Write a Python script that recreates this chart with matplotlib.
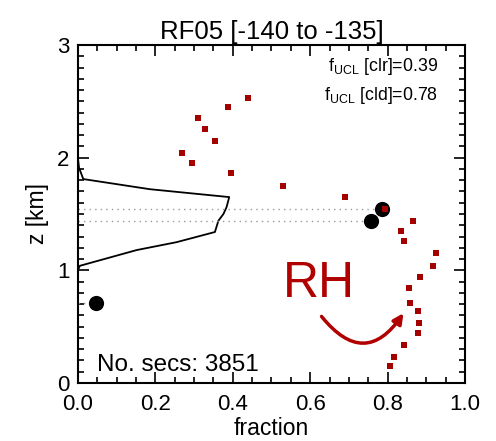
import matplotlib
matplotlib.use('Agg')
import matplotlib.pyplot as plt
from matplotlib.ticker import MultipleLocator

plt.rcParams['font.family'] = ['Liberation Sans', 'DejaVu Sans']

# RH profile (red squares)
rh_frac = [0.440, 0.387, 0.310, 0.329, 0.353, 0.268, 0.296, 0.395, 0.530, 0.690,
           0.793, 0.865, 0.835, 0.842, 0.926, 0.918, 0.884, 0.855, 0.857, 0.879,
           0.880, 0.879, 0.843, 0.817, 0.806]
rh_z = [2.53, 2.45, 2.35, 2.25, 2.15, 2.04, 1.95, 1.86, 1.75, 1.65,
        1.54, 1.44, 1.35, 1.26, 1.15, 1.04, 0.94, 0.84, 0.71, 0.64,
        0.53, 0.44, 0.34, 0.23, 0.15]

# cloud fraction profile (black line)
cf_frac = [0.0, 0.0, 0.003, 0.014, 0.186, 0.391, 0.384, 0.376, 0.363, 0.354,
           0.255, 0.152, 0.005, 0.0, 0.0]
cf_z = [3.0, 2.0, 1.91, 1.81, 1.72, 1.65, 1.56, 1.50, 1.44, 1.34,
        1.25, 1.18, 1.04, 1.0, 0.0]

# UCL points (black dots)
ucl_frac = [0.786, 0.756, 0.047]
ucl_z = [1.54, 1.44, 0.71]

fig = plt.figure(figsize=(4.96, 4.41), dpi=100)
ax = fig.add_axes([0.157, 0.1315, 0.7805, 0.7665])

ax.plot(cf_frac, cf_z, color='black', lw=1.3)
for f, z in zip(ucl_frac, ucl_z):
    ax.plot([0, f], [z, z], color='#999999', lw=1.0, ls=(0, (1, 3)))
ax.scatter(rh_frac, rh_z, marker='s', s=22, color='#a50000', zorder=3, linewidths=0)
ax.scatter(ucl_frac, ucl_z, marker='o', s=120, color='black', zorder=2, linewidths=0)

ax.set_xlim(0, 1)
ax.set_ylim(0, 3)
ax.xaxis.set_major_locator(MultipleLocator(0.2))
ax.xaxis.set_minor_locator(MultipleLocator(0.05))
ax.yaxis.set_major_locator(MultipleLocator(1))
ax.yaxis.set_minor_locator(MultipleLocator(0.1))
ax.set_xticks([0, 0.2, 0.4, 0.6, 0.8, 1.0])
ax.set_xticklabels(['0.0', '0.2', '0.4', '0.6', '0.8', '1.0'])
ax.tick_params(which='both', direction='in', top=True, right=True, width=1.2)
ax.tick_params(which='major', length=8, labelsize=16, pad=8)
ax.tick_params(axis='y', which='major', pad=6)
ax.tick_params(which='minor', length=4)
for s in ax.spines.values():
    s.set_linewidth(1.5)

ax.set_xlabel('fraction', fontsize=16.5, labelpad=1)
ax.set_ylabel('z [km]', fontsize=16.5, labelpad=6)
ax.set_title('RF05 [-140 to -135]', fontsize=18.5, pad=4)

ax.text(0.93, 0.935, r'f$_{\mathregular{UCL}}$ [clr]=0.39', transform=ax.transAxes,
        ha='right', va='center', fontsize=12.8)
ax.text(0.93, 0.852, r'f$_{\mathregular{UCL}}$ [cld]=0.78', transform=ax.transAxes,
        ha='right', va='center', fontsize=12.8)
ax.text(0.05, 0.02, 'No. secs: 3851', transform=ax.transAxes,
        ha='left', va='bottom', fontsize=17.5)

ax.text(0.53, 0.88, 'RH', color='#b00000', fontsize=36, ha='left', va='center')
ax.annotate('', xy=(0.845, 0.64), xytext=(0.625, 0.61),
            arrowprops=dict(arrowstyle='-|>,head_length=0.6,head_width=0.3',
                            color='#b00000', lw=2.5,
                            connectionstyle='arc3,rad=0.7'))

fig.savefig('out.png', dpi=100)
